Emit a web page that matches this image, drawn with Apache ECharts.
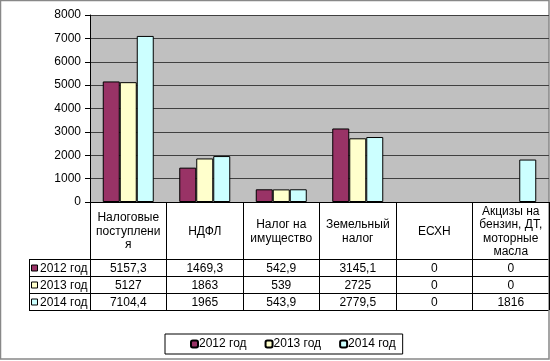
<!DOCTYPE html>
<html><head><meta charset="utf-8">
<script src="https://cdn.jsdelivr.net/npm/echarts@6/dist/echarts.min.js"></script>
<style>html,body{margin:0;padding:0;background:#fff}#c{width:550px;height:361px}</style>
</head><body><div id="c"></div>
<script>
var categories = ["Налоговые\nпоступлени\nя", "НДФЛ", "Налог на\nимущество", "Земельный\nналог", "ЕСХН", "Акцизы на\nбензин, ДТ,\nмоторные\nмасла"];
var seriesNames = ["2012 год", "2013 год", "2014 год"];
var v2012 = [5157.3, 1469.3, 542.9, 3145.1, 0, 0];
var v2013 = [5127, 1863, 539, 2725, 0, 0];
var v2014 = [7104.4, 1965, 543.9, 2779.5, 0, 1816];
var yTicks = [0, 1000, 2000, 3000, 4000, 5000, 6000, 7000, 8000];

var colors = ["#993366", "#FFFFCC", "#CCFFFF"];
var allVals = [v2012, v2013, v2014];
var FONT = "Arial, 'Liberation Sans', sans-serif";
var FS = 12;
function fmt(v){ return String(v).replace('.', ','); }

var chart = echarts.init(document.getElementById('c'), null, {renderer:'canvas'});
var gridL = 90, gridT = 15, gridR = 1, gridB = 159;
var rowH = 17, labelRowH = 57;

var xAxes = [{
  type:'category', data: categories, gridIndex:0, position:'bottom',
  axisLine:{show:true, lineStyle:{color:'#000', width:1}},
  axisTick:{show:true, interval:0, length: labelRowH + 3*rowH, lineStyle:{color:'#000', width:1}},
  axisLabel:{interval:0, color:'#000', fontSize:FS, fontFamily:FONT, lineHeight:13.5, verticalAlign:'middle', margin: labelRowH/2 + 1}
}];
for (var r = 0; r < 3; r++) {
  (function(r){
    xAxes.push({
      type:'category', data: categories, gridIndex:0, position:'bottom', offset: labelRowH + r*rowH,
      axisLine:{show:false}, axisTick:{show:false},
      axisLabel:{interval:0, color:'#000', fontSize:FS, fontFamily:FONT, verticalAlign:'middle', margin: rowH/2 + 1,
        formatter:function(val, idx){ return fmt(allVals[r][idx]); }}
    });
  })(r);
}

var series = seriesNames.map(function(n, i){
  return {name:n, type:'bar', xAxisIndex:0,
    data: allVals[i].map(function(v){ return v === 0 ? null : v; }),
    barWidth:17, barGap:'0%',
    itemStyle:{color:colors[i], borderColor:'#000', borderWidth:1}, emphasis:{disabled:true}};
});

var tableTop = 361 - gridB + labelRowH;
var tableLeft = 29, tableRight = 549;
var graphics = [];
for (var k = 0; k < 4; k++) {
  var y = tableTop + k*rowH + 0.5;
  graphics.push({type:'line', shape:{x1:tableLeft, y1:y, x2:tableRight, y2:y}, style:{stroke:'#000', lineWidth:1}, silent:true});
}
graphics.push({type:'line', shape:{x1:tableLeft+0.5, y1:tableTop, x2:tableLeft+0.5, y2:tableTop+3*rowH}, style:{stroke:'#000', lineWidth:1}, silent:true});
seriesNames.forEach(function(n, i){
  var cy = tableTop + i*rowH + rowH/2 + 1;
  graphics.push({type:'rect', shape:{x:31.5, y:cy-3.5, width:6, height:6}, style:{fill:colors[i], stroke:'#000', lineWidth:1}, silent:true});
  graphics.push({type:'text', x:40, y:cy, style:{text:n, fill:'#000', font:FS + 'px ' + FONT, textVerticalAlign:'middle', verticalAlign:'middle'}, silent:true});
});
graphics.push({type:'rect', shape:{x:0.5, y:0.5, width:548.5, height:358.5}, style:{fill:null, stroke:'#888', lineWidth:1.5}, silent:true});

chart.setOption({
  animation:false,
  backgroundColor:'#fff',
  grid:{left:gridL, top:gridT, right:gridR, bottom:gridB, show:true, backgroundColor:'#C0C0C0', borderWidth:0},
  legend:{data:seriesNames, left:165, top:334, orient:'horizontal', itemWidth:7, itemHeight:7, itemGap:18,
    borderColor:'#000', borderWidth:1, padding:[4, 7, 4, 25],
    textStyle:{color:'#000', fontSize:FS, fontFamily:FONT, padding:[0,0,0,-4]}},
  xAxis: xAxes,
  yAxis:{type:'value', min:0, max:8000, interval:1000,
    axisLine:{show:true, lineStyle:{color:'#000', width:1}},
    axisTick:{show:true, length:5, lineStyle:{color:'#000'}},
    axisLabel:{color:'#000', fontSize:FS, fontFamily:FONT, margin:9, formatter:function(v){ return yTicks.indexOf(v) >= 0 ? String(v) : ''; }},
    splitLine:{show:true, lineStyle:{color:'#404040', width:1}}},
  series: series,
  graphic: graphics
});
</script></body></html>
